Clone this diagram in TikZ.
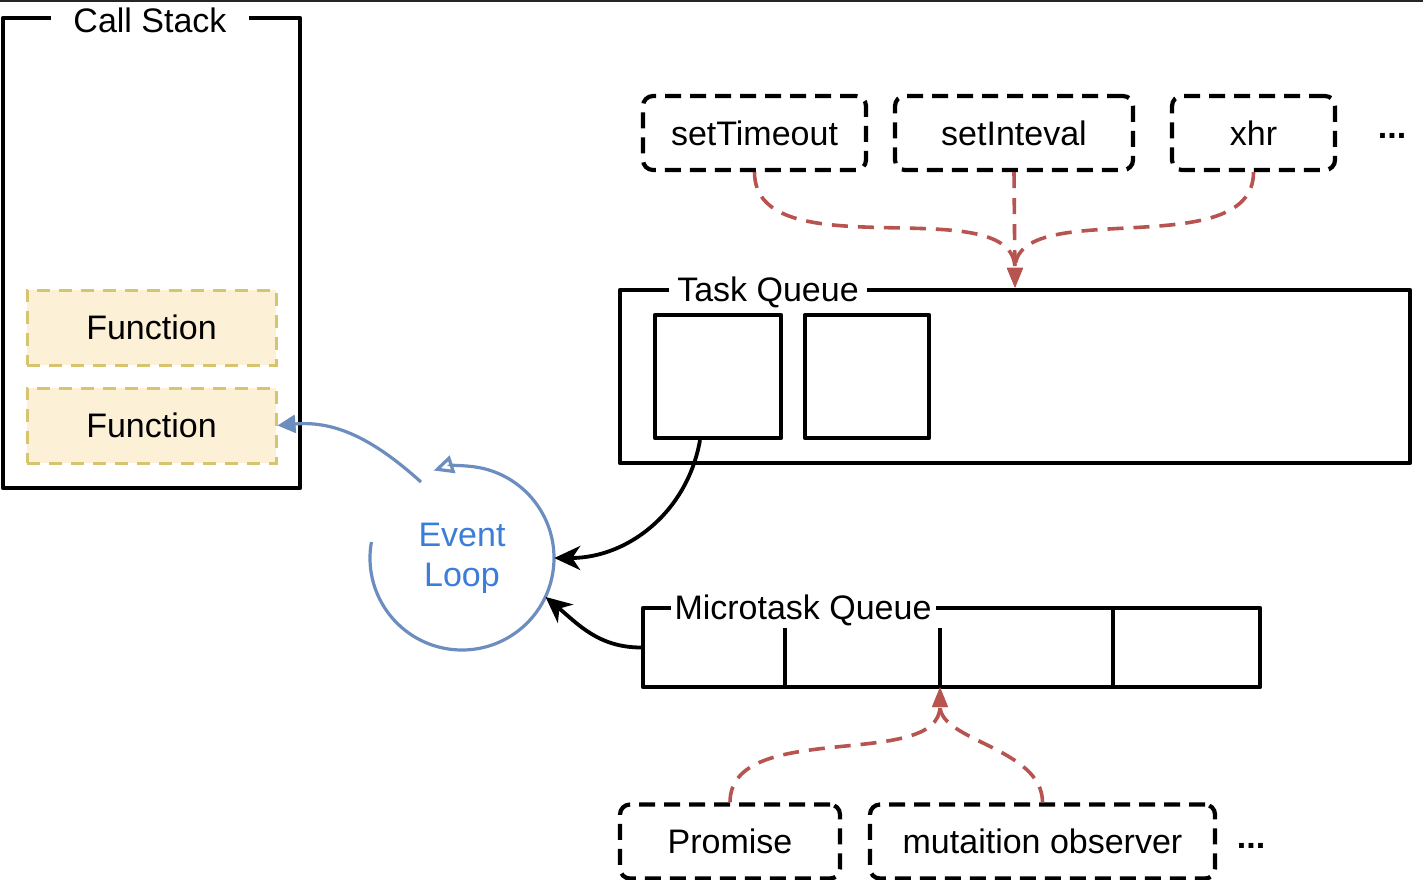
\documentclass[tikz,border=0pt]{standalone}
\usepackage{fontspec}
\setmainfont{Liberation Sans}
\usetikzlibrary{arrows.meta,calc}
\definecolor{fnfill}{HTML}{FCF1D6}
\definecolor{fnline}{HTML}{D6C46E}
\definecolor{redarr}{HTML}{B85450}
\definecolor{blueline}{HTML}{6C8EBF}
\definecolor{bluetext}{HTML}{3B7DD8}
\begin{document}
\begin{tikzpicture}[x=1pt,y=-1pt,
  font=\fontsize{34pt}{40pt}\selectfont,
  sketchbox/.style={draw=black, line width=4.2pt, line join=round, rectangle, inner sep=0pt},
  titlelbl/.style={fill=white, inner ysep=1pt},
  srcbox/.style={draw=black, line width=4.2pt, rounded corners=10pt, dash pattern=on 16pt off 9pt, inner sep=0pt, minimum height=74pt},
  fnbox/.style={fill=fnfill, draw=fnline, line width=3pt, dash pattern=on 13pt off 9pt, minimum width=249pt, minimum height=75pt, inner sep=0pt},
  redflow/.style={draw=redarr, line width=3.6pt, dash pattern=on 16pt off 10pt, -{Triangle[length=20pt,width=15pt]}},
  blackflow/.style={draw=black, line width=3.8pt, -{Stealth[length=26pt,width=24pt,inset=8pt]}},
  blueflow/.style={draw=blueline, line width=3.2pt, -{Triangle[length=18pt,width=18pt]}},
  divider/.style={draw=black, line width=4.2pt},
  dotslbl/.style={font=\fontsize{34pt}{40pt}\selectfont\bfseries}
]
\useasboundingbox (0,0) rectangle (1423,880);
\fill[white] (0,0) rectangle (1423,880);
\draw[line width=3pt, black!85] (0,1) -- (1423,1);

% Call stack
\node[sketchbox, minimum width=297pt, minimum height=470pt] (cs) at (151.5,253) {};
\node[titlelbl, inner xsep=22pt] (cst) at (150,20) {Call Stack};
\node[fnbox] (fn1) at (151.5,327.5) {Function};
\node[fnbox] (fn2) at (151.5,425.5) {Function};

% Event loop
\node[circle, minimum size=184pt, inner sep=0pt, text=bluetext, align=center] (el) at (462,558) {Event\\[0pt]Loop};
\draw[draw=blueline, line width=3.2pt, -{Triangle[open, length=20pt, width=18pt]}]
  ([shift={(-190:92pt)}]el.center) arc[start angle=-190, end angle=108, radius=92pt];
\coordinate (bs) at (421,482);
\draw[blueflow] (bs) to[out=138, in=5] (fn2.east);

% Task queue
\node[sketchbox, minimum width=790pt, minimum height=173pt] (tq) at (1015,376.5) {};
\node[titlelbl, inner xsep=8pt] (tqt) at (768,292) {Task Queue};
\node[sketchbox, minimum width=126pt, minimum height=123pt] (tb1) at (718,376.5) {};
\node[sketchbox, minimum width=124pt, minimum height=123pt] (tb2) at (867,376.5) {};

% Microtask queue
\node[sketchbox, minimum width=617pt, minimum height=79pt] (mq) at (951.5,647.5) {};
\coordinate (d1) at (785,687);
\coordinate (d2) at (940,687);
\coordinate (d3) at (1113,687);
\draw[divider] (d1) -- ++(0,-59);
\draw[divider] (d2) -- ++(0,-59);
\draw[divider] (d3) -- ++(0,-79);
\node[titlelbl, inner xsep=4pt] (mqt) at (803,610) {Microtask Queue};

% sources
\node[srcbox, minimum width=223pt] (st) at (754.5,133) {setTimeout};
\node[srcbox, minimum width=238pt] (si) at (1014,133) {setInteval};
\node[srcbox, minimum width=163pt] (xh) at (1253.5,133) {xhr};
\node[dotslbl] (dots1) at (1392,136) {...};

\node[srcbox, minimum width=220pt] (pr) at (730,841.5) {Promise};
\node[srcbox, minimum width=345pt] (mo) at (1042.5,841.5) {mutaition observer};
\node[dotslbl] (dots2) at (1251,846) {...};

% red dashed flows
\draw[redflow] (st.south) to[out=-90, in=90, looseness=0.9] (tq.north);
\draw[redflow] (si.south) -- (tq.north);
\draw[redflow] (xh.south) to[out=-90, in=90, looseness=0.9] (tq.north);
\draw[redflow] (pr.north) to[out=90, in=-90, looseness=0.9] (d2);
\draw[redflow] (mo.north) to[out=90, in=-90, looseness=0.9] (d2);

% black flows
\draw[blackflow] (tb1.south -| 700,0) to[out=-100, in=0] (el.east);
\draw[blackflow] (mq.west) to[out=180, in=-40] (el.-25);
\end{tikzpicture}
\end{document}
